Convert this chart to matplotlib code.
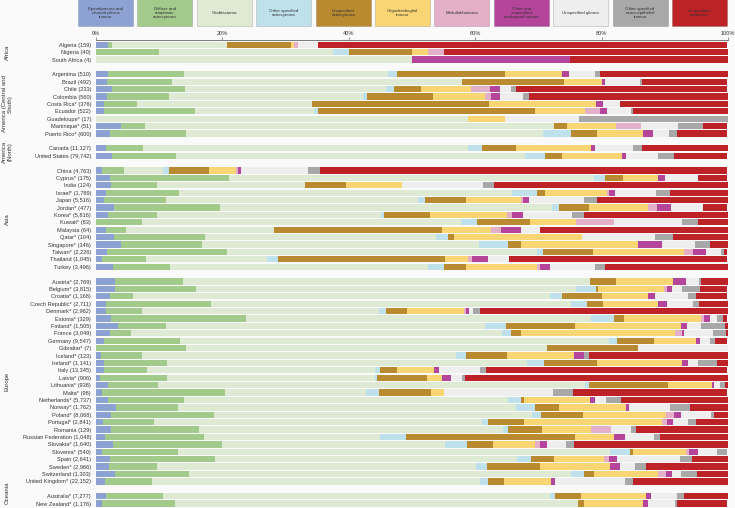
import numpy as np
import matplotlib
matplotlib.use("Agg")
import matplotlib.pyplot as plt
from matplotlib.patches import Rectangle
from matplotlib.transforms import blended_transform_factory

plt.rcParams["font.family"] = ["Liberation Sans", "DejaVu Sans"]

# rows, top to bottom, grouped by continent
groups = [("Africa", 3), ("America (Central and\nSouth)", 9), ("America\n(North)", 2),
          ("Asia", 14), ("Europe", 28), ("Oceania", 2)]

countries = [
    "Algeria (159)", "Nigeria (40)", "South Africa (4)",
    "Argentina (510)", "Brazil (492)", "Chile (233)", "Colombia (560)", "Costa Rica* (376)",
    "Ecuador (522)", "Guadeloupe* (17)", "Martinique* (51)", "Puerto Rico* (600)",
    "Canada (11,127)", "United States (79,742)",
    "China (4,763)", "Cyprus* (175)", "India (124)", "Israel* (1,789)", "Japan (5,516)",
    "Jordan* (477)", "Korea* (5,816)", "Kuwait* (83)", "Malaysia (64)", "Qatar* (104)",
    "Singapore* (346)", "Taiwan* (2,226)", "Thailand (1,045)", "Turkey (3,496)",
    "Austria* (2,769)", "Belgium* (3,815)", "Croatia* (1,168)", "Czech Republic* (2,711)",
    "Denmark* (2,962)", "Estonia* (329)", "Finland* (1,505)", "France (3,049)",
    "Germany (9,547)", "Gibraltar* (7)", "Iceland* (123)", "Ireland* (1,141)",
    "Italy (13,345)", "Latvia* (906)", "Lithuania* (938)", "Malta* (98)",
    "Netherlands* (5,737)", "Norway* (1,762)", "Poland* (8,068)", "Portugal* (2,841)",
    "Romania (129)", "Russian Federation (1,048)", "Slovakia* (1,640)", "Slovenia* (540)",
    "Spain (2,641)", "Sweden* (2,966)", "Switzerland (1,303)", "United Kingdom* (22,152)",
    "Australia* (7,277)", "New Zealand* (1,176)",
]

# percentages per histology, same row order as countries
ependymoma = [1.9, 0, 0,
              1.9, 1.7, 2.5, 1.7, 1.3, 1.3, 0, 3.9, 2.2,
              1.6, 2.5,
              0.9, 2.2, 2.4, 1.6, 1.3, 2.8, 1.9, 0, 1.6, 2.9, 4.0, 1.7, 1.0, 2.7,
              3.0, 3.0, 2.2, 1.6, 1.6, 2.4, 3.5, 2.2, 1.3, 0, 0.8, 1.3, 1.2, 0.6,
              1.9, 1.0, 1.9, 3.2, 2.3, 1.1, 2.3, 1.4, 2.7, 1.0, 2.2, 2.1, 3.0, 1.5,
              1.6, 0.9]
diffuse = [0.6, 10.0, 0,
           12.1, 10.3, 11.6, 9.8, 5.2, 14.4, 0, 3.9, 12.0,
           5.8, 10.1,
           3.5, 18.8, 7.2, 11.6, 9.7, 16.8, 7.7, 7.2, 3.1, 14.4, 12.7, 19.0, 6.9, 9.0,
           10.7, 12.9, 3.7, 16.6, 5.6, 21.3, 7.6, 3.4, 12.0, 14.3, 6.5, 9.9, 6.8, 10.6,
           7.9, 19.4, 12.1, 9.7, 16.3, 8.1, 14.0, 15.7, 17.2, 11.9, 16.7, 7.5, 11.7, 7.4,
           9.0, 11.6]
glioblastoma = [18.2, 27.5, 50.0,
                32.2, 45.9, 31.8, 30.7, 27.7, 18.8, 58.8, 64.7, 56.5,
                51.5, 55.3,
                6.2, 57.8, 23.4, 52.7, 39.9, 52.5, 35.5, 50.6, 23.4, 36.5, 43.9, 49.0, 19.2, 40.8,
                64.4, 60.1, 66.0, 56.9, 37.6, 54.7, 50.5, 58.7, 67.9, 57.1, 49.6, 57.0, 36.1, 33.0,
                67.6, 22.4, 51.2, 53.5, 50.4, 51.9, 48.1, 27.9, 35.4, 68.4, 47.7, 50.6, 60.4, 51.8,
                61.2, 63.7]
other_astro = [0, 2.5, 0,
               1.5, 0, 1.3, 0.7, 0, 0.7, 0, 0, 4.5,
               2.2, 3.1,
               0.9, 1.7, 0, 3.8, 1.2, 1.2, 0.5, 2.5, 0, 1.9, 4.6, 1.0, 1.7, 2.5,
               0, 3.1, 1.8, 2.6, 1.1, 3.5, 3.3, 1.3, 1.3, 0, 1.6, 2.7, 0.9, 0.2,
               0.6, 2.0, 2.0, 3.0, 1.4, 1.0, 0.8, 4.1, 3.4, 3.2, 2.2, 1.6, 2.1, 1.4,
               0.8, 0]
unspec_astro = [10.1, 10.0, 0,
                17.0, 16.2, 4.3, 10.5, 28.0, 34.3, 0, 2.0, 4.0,
                5.4, 2.7,
                6.4, 2.9, 6.5, 1.4, 6.5, 4.7, 7.3, 8.3, 26.6, 1.0, 2.0, 7.9, 26.4, 3.5,
                4.1, 0.3, 6.3, 2.5, 3.3, 1.6, 10.9, 1.6, 5.8, 14.3, 6.5, 8.4, 2.6, 7.9,
                12.5, 8.2, 0.6, 3.8, 6.6, 5.6, 5.4, 26.7, 4.1, 0.4, 3.7, 8.4, 1.6, 2.5,
                4.1, 1.0]
oligo = [0.6, 2.5, 0,
         9.0, 5.9, 7.8, 8.2, 16.9, 7.9, 5.9, 7.8, 7.3,
         11.8, 9.6,
         4.3, 5.6, 8.9, 9.8, 8.7, 9.3, 12.1, 7.4, 7.8, 20.2, 18.5, 14.5, 3.7, 11.2,
         9.1, 10.5, 7.4, 8.7, 9.1, 12.3, 16.7, 24.4, 6.6, 0, 10.6, 13.4, 5.9, 2.5,
         7.0, 2.0, 10.3, 10.7, 13.2, 21.8, 7.8, 6.2, 6.6, 8.4, 7.9, 11.2, 10.2, 7.4,
         10.4, 9.3]
medullo = [0.6, 2.5, 0,
           0, 0, 3.0, 0.9, 0, 2.4, 0, 3.9, 0,
           0, 0,
           0.3, 0, 0, 0.3, 0.3, 1.4, 0.9, 5.9, 1.6, 0, 0, 1.3, 0.6, 0.5,
           0, 0.5, 0, 0, 0.2, 0.4, 0, 1.1, 0, 0, 0, 0, 0, 0,
           0, 0, 0, 0, 1.3, 0.8, 3.1, 0, 0.8, 0.6, 0.8, 0, 1.2, 0,
           0, 0]
embryonal = [0, 0, 25.0,
             1.2, 0.6, 1.7, 1.4, 1.2, 1.1, 0, 0, 1.7,
             0.7, 0.6,
             0.5, 1.1, 0, 0.9, 0.9, 2.3, 1.6, 0, 3.1, 0, 3.8, 2.1, 2.5, 1.6,
             2.1, 0.8, 1.1, 1.4, 0.5, 0.9, 1.0, 0.4, 0.7, 0, 1.6, 0.9, 0.7, 1.4,
             0.3, 0, 0.9, 0.4, 1.1, 1.0, 0, 1.7, 1.2, 1.3, 1.3, 1.5, 1.0, 0.6,
             0.7, 0.8]
unspec_glioma = [3.1, 0, 0,
                 4.0, 5.4, 1.7, 3.7, 2.6, 3.8, 11.8, 5.9, 2.4,
                 5.9, 5.0,
                 10.6, 5.2, 12.9, 6.5, 8.7, 5.0, 7.8, 10.8, 3.1, 11.5, 5.3, 2.4, 3.3, 7.1,
                 2.0, 1.6, 5.2, 4.1, 0.6, 1.2, 2.3, 4.6, 1.6, 14.3, 0, 1.6, 6.6, 1.7,
                 1.0, 17.3, 1.7, 6.5, 4.7, 2.4, 3.1, 4.6, 3.0, 3.1, 9.9, 2.4, 1.3, 11.1,
                 4.2, 4.3]
other_neuro = [0, 0, 0,
               0.8, 0.4, 0.8, 0.9, 0, 0.3, 23.5, 3.9, 1.4,
               1.5, 2.6,
               1.9, 0, 1.6, 2.2, 2.1, 0, 1.9, 2.5, 0, 2.9, 2.3, 0.5, 0, 1.7,
               0.4, 2.7, 1.2, 1.0, 1.1, 0.9, 3.7, 2.0, 0.8, 0, 0.8, 3.0, 0.9, 0.5,
               0.8, 3.1, 2.3, 3.2, 0.5, 1.2, 0.8, 0.9, 1.3, 1.6, 1.9, 1.7, 2.6, 1.2,
               1.1, 0.4]
unspec_neoplasm = [64.8, 45.0, 25.0,
                   20.3, 13.5, 33.4, 31.5, 17.1, 15.1, 0, 3.9, 7.9,
                   13.7, 8.4,
                   64.4, 4.6, 37.1, 9.3, 20.8, 3.9, 22.8, 4.9, 29.7, 8.7, 3.0, 0.5, 34.6, 19.4,
                   4.3, 4.4, 5.0, 4.6, 39.4, 0.7, 0.5, 0.3, 1.9, 0, 22.0, 1.8, 38.2, 41.6,
                   0.4, 24.5, 17.1, 6.0, 2.2, 5.1, 14.7, 10.9, 24.3, 0, 5.7, 13.0, 4.9, 15.1,
                   6.9, 7.9]

categories = ["Ependymoma and\nchoroid plexus\ntumour", "Diffuse and\nanaplastic\nastrocytoma",
              "Glioblastoma", "Other specified\nastrocytoma", "Unspecified\nastrocytoma",
              "Oligodendroglial\ntumour", "Medulloblastoma", "Other and\nunspecified\nembryonal tumour",
              "Unspecified glioma", "Other specified\nneuro-epithelial\ntumour", "Unspecified\nneoplasm"]
series = [ependymoma, diffuse, glioblastoma, other_astro, unspec_astro, oligo,
          medullo, embryonal, unspec_glioma, other_neuro, unspec_neoplasm]
colors = ["#8da2d3", "#a2ca8b", "#dfead5", "#bfe1ec", "#b98a2f", "#f9d673",
          "#e4b0c9", "#b5449b", "#eeeeee", "#a8a8a8", "#bd2227"]

# slot positions: one blank slot after each group
ypos, group_mid = [], []
slot = 0
for name, n in groups:
    ypos.extend(range(slot, slot + n))
    group_mid.append((name, slot + (n - 1) / 2))
    slot += n + 1
ypos = np.array(ypos)

W, H = 735, 508
bg = "#fafafa"
txt = "#333333"
fig = plt.figure(figsize=(W / 100, H / 100), dpi=100, facecolor=bg)
ax = fig.add_axes([96 / W, 0, 632 / W, (H - 40.3) / H])
ax.set_facecolor(bg)

left = np.zeros(len(countries))
for vals, c in zip(series, colors):
    vals = np.array(vals)
    ax.barh(ypos, vals, left=left, height=0.85, color=c, linewidth=0)
    left += vals

ax.set_xlim(0, 100)
ax.set_ylim(62.6, -0.6)
ax.set_yticks(ypos, countries)
ax.tick_params(axis="y", length=0, pad=3.6, labelsize=4.1, labelcolor=txt)

ax.xaxis.tick_top()
ticks = [0, 20, 40, 60, 80, 100]
ax.set_xticks(ticks, [f"{t}%" for t in ticks])
ax.tick_params(axis="x", length=2, width=0.5, pad=1.2, labelsize=4.1,
               labelcolor=txt, color="#666666")
for s in ["left", "right", "bottom"]:
    ax.spines[s].set_visible(False)
ax.spines["top"].set_linewidth(0.6)
ax.spines["top"].set_color("#666666")

trans = blended_transform_factory(fig.transFigure, ax.transData)
for name, mid in group_mid:
    if name == "Oceania":
        mid -= 0.9  # keep it inside the bottom edge
    ax.text(7 / W, mid, name, transform=trans, rotation=90, ha="center", va="center",
            fontsize=4.3, color=txt, multialignment="center", linespacing=1.1,
            clip_on=False)

# legend boxes across the top
for i, (name, c) in enumerate(zip(categories, colors)):
    x0 = (78 + i * 59.4) / W
    fig.add_artist(Rectangle((x0, 1 - 25.7 / H), 55 / W, 27 / H, transform=fig.transFigure,
                             facecolor=c, edgecolor="#00000030", linewidth=0.5))
    fig.text(x0 + 27.5 / W, 1 - 13 / H, name, ha="center", va="center",
             fontsize=3.2, color=txt, linespacing=1.0)

fig.savefig("out.png", dpi=100, facecolor=bg)
